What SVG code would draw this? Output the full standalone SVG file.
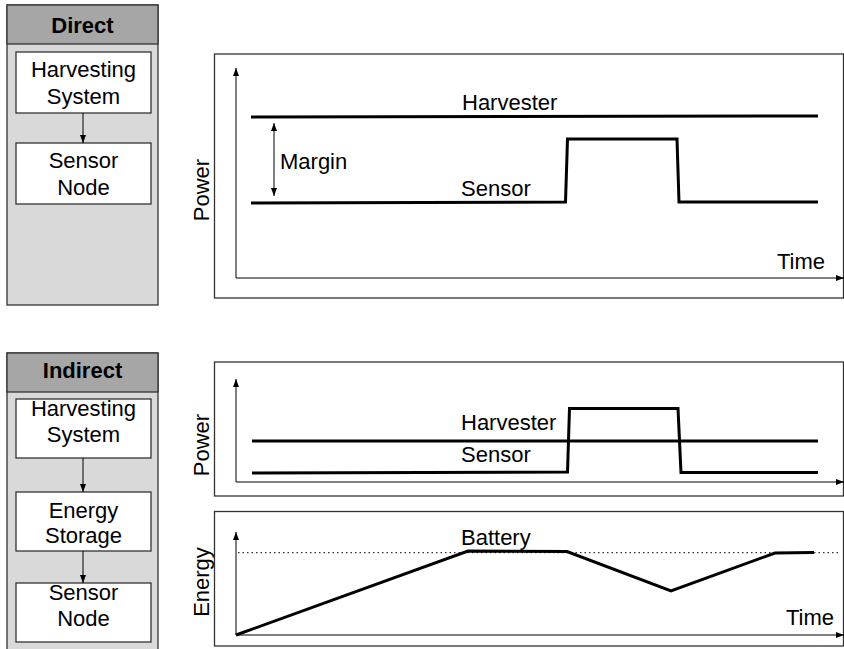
<svg xmlns="http://www.w3.org/2000/svg" width="844" height="649" viewBox="0 0 844 649">
<defs>
<marker id="ah" markerUnits="userSpaceOnUse" markerWidth="8" markerHeight="8" viewBox="0 0 8 8" refX="8" refY="4" orient="auto">
<path d="M0,1 L8,4 L0,7 Z" fill="#000"/>
</marker>
<marker id="ahs" markerUnits="userSpaceOnUse" markerWidth="8" markerHeight="8" viewBox="0 0 8 8" refX="0" refY="4" orient="auto">
<path d="M8,1 L0,4 L8,7 Z" fill="#000"/>
</marker>
</defs>
<style>
text{font-family:"Liberation Sans",Arial,sans-serif;font-size:22px;fill:#000}
.hdr{font-weight:bold;text-anchor:middle}
.mid{text-anchor:middle}
.panel{fill:#d9d9d9;stroke:#333;stroke-width:1.3}
.head{fill:#a6a6a6;stroke:#333;stroke-width:1.3}
.box{fill:#fff;stroke:#333;stroke-width:1.3}
.frame{fill:#fff;stroke:#333;stroke-width:1.3}
.axis{fill:none;stroke:#000;stroke-width:1}
.sig{fill:none;stroke:#000;stroke-width:3;stroke-linejoin:miter}
.conn{fill:none;stroke:#000;stroke-width:1}
</style>
<rect width="844" height="649" fill="#fff"/>

<g id="direct-panel">
<rect class="panel" x="7" y="5" width="151" height="300"/>
<rect class="head" x="7" y="5" width="151" height="39"/>
<text class="hdr" x="82.5" y="33">Direct</text>
</g>
<g id="direct-harvesting">
<rect class="box" x="16" y="52" width="135" height="61"/>
<text class="mid" x="83.5" y="77">Harvesting</text>
<text class="mid" x="83.5" y="104">System</text>
</g>
<g id="direct-sensor">
<rect class="box" x="16" y="143" width="135" height="61"/>
<text class="mid" x="83.5" y="168">Sensor</text>
<text class="mid" x="83.5" y="195">Node</text>
</g>

<g id="indirect-panel">
<rect class="panel" x="7" y="353" width="151" height="300"/>
<rect class="head" x="7" y="353" width="151" height="39"/>
<text class="hdr" x="82.5" y="378">Indirect</text>
</g>
<g id="indirect-harvesting">
<rect class="box" x="16" y="399" width="135" height="59"/>
<text class="mid" x="83.5" y="416">Harvesting</text>
<text class="mid" x="83.5" y="442">System</text>
</g>
<g id="indirect-storage">
<rect class="box" x="16" y="492" width="135" height="59"/>
<text class="mid" x="83.5" y="518">Energy</text>
<text class="mid" x="83.5" y="543">Storage</text>
</g>
<g id="indirect-sensor">
<rect class="box" x="16" y="583" width="135" height="59"/>
<text class="mid" x="83.5" y="600">Sensor</text>
<text class="mid" x="83.5" y="626">Node</text>
</g>

<g id="connectors">
<line class="conn" x1="83" y1="113" x2="83" y2="143" marker-end="url(#ah)"/>
<line class="conn" x1="83" y1="458" x2="83" y2="492" marker-end="url(#ah)"/>
<line class="conn" x1="83" y1="551" x2="83" y2="583" marker-end="url(#ah)"/>
</g>

<g id="chart-direct">
<rect class="frame" x="214.5" y="54" width="629" height="244"/>
<line class="axis" x1="236" y1="278" x2="236" y2="68" marker-end="url(#ah)"/>
<line class="axis" x1="236" y1="278" x2="844" y2="278" marker-end="url(#ah)"/>
<polyline class="sig" points="251,117 818,116"/>
<polyline class="sig" points="251,203 565.5,202 567.5,139 677,139 679,202 818,202"/>
<line class="axis" x1="274" y1="123" x2="274" y2="196" marker-start="url(#ahs)" marker-end="url(#ah)"/>
<text x="462" y="110">Harvester</text>
<text x="280" y="169">Margin</text>
<text x="461" y="196">Sensor</text>
<text x="777" y="269">Time</text>
<text class="mid" transform="translate(209,190) rotate(-90)">Power</text>
</g>

<g id="chart-indirect-power">
<rect class="frame" x="214.5" y="362" width="629" height="134"/>
<line class="axis" x1="236" y1="482" x2="236" y2="379" marker-end="url(#ah)"/>
<line class="axis" x1="236" y1="482" x2="844" y2="482" marker-end="url(#ah)"/>
<polyline class="sig" points="252,441 818,441"/>
<polyline class="sig" points="252,473 567.5,472 569.5,408.5 678,408.5 681,472.5 818,472.5"/>
<text x="461" y="430">Harvester</text>
<text x="461" y="462">Sensor</text>
<text class="mid" transform="translate(209,445) rotate(-90)">Power</text>
</g>

<g id="chart-indirect-energy">
<rect class="frame" x="214.5" y="511.5" width="629" height="134.5"/>
<line class="axis" x1="236" y1="635" x2="236" y2="532" marker-end="url(#ah)"/>
<line class="axis" x1="236" y1="635" x2="844" y2="635" marker-end="url(#ah)"/>
<line x1="238" y1="552.7" x2="840" y2="552.7" stroke="#000" stroke-width="1" stroke-dasharray="1.5,3"/>
<polyline class="sig" points="236,635 468,551 567,551.5 671,591 775,553 814,552.5" stroke-width="3.5"/>
<text x="461" y="545">Battery</text>
<text x="786" y="625">Time</text>
<text class="mid" transform="translate(209,582) rotate(-90)">Energy</text>
</g>
</svg>
